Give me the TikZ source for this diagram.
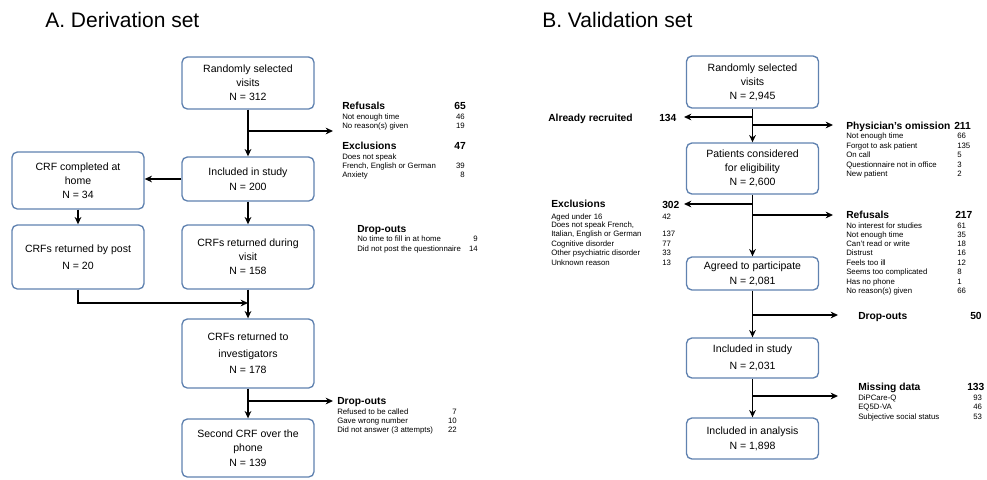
\documentclass[tikz,border=0pt]{standalone}
\usepackage{fontspec}
\setmainfont{Liberation Sans}
\usetikzlibrary{arrows.meta}

\begin{document}
\begin{tikzpicture}[x=0.75pt,y=-0.75pt]
	\definecolor{box edge}{RGB}{96,130,176}

	\tikzset{
		box/.style={draw=box edge, line width=1pt, rounded corners=4pt, fill=white, align=center,
			minimum width=99pt, inner sep=0pt, font=\fontsize{7.9}{10.5}\selectfont},
		arr/.style={-{Stealth[length=5.5pt,width=5pt]}, line width=1pt},
		title/.style={anchor=west, inner sep=0pt, font=\fontsize{15.75}{18}\selectfont, text height=11.3pt, text depth=0pt},
		head/.style={anchor=west, inner sep=0pt, font=\bfseries\fontsize{7.7}{9}\selectfont, text height=5.5pt, text depth=0pt},
		reason/.style={anchor=west, inner sep=0pt, font=\fontsize{5.85}{7}\selectfont, text height=4.2pt, text depth=0pt},
	}
	\useasboundingbox (0,0) rectangle (987,479);

	%% A. Derivation set
	\node[title] (titleA) at (45,20) {A. Derivation set};

	\node[box, minimum height=39pt] (visitsA) at (248,83) {Randomly selected\\visits\\N = 312};
	\node[box, minimum height=33pt] (inclA) at (248,179) {Included in study\\[1pt]N = 200};
	\node[box, minimum height=42.75pt] (home) at (78,180.5) {CRF completed at\\home\\N = 34};
	\node[box, minimum height=48pt] (post) at (78,257) {CRFs returned by post\\[2.2pt]N = 20};
	\node[box, minimum height=48pt] (visit) at (248,257) {CRFs returned during\\visit\\N = 158};
	\node[box, minimum height=51.75pt] (invest) at (248,353.5) {CRFs returned to\\[2.5pt]investigators\\[1.5pt]N = 178};
	\node[box, minimum height=43.5pt] (phone) at (248,448) {Second CRF over the\\phone\\[1pt]N = 139};

	\coordinate (refusA-tip) at (333,131);
	\coordinate (mergeA) at (248,303);
	\coordinate (dropA-tip) at (333,401);

	\draw[arr] (visitsA) -- (inclA);
	\draw[arr] (visitsA.south |- refusA-tip) -- (refusA-tip);
	\draw[arr] (inclA.west) -- (inclA.west -| home.east);
	\draw[arr] (home) -- (post);
	\draw[arr] (inclA) -- (visit);
	\draw[arr] (post.south) |- (mergeA);
	\draw[arr] (visit) -- (invest);
	\draw[arr] (invest) -- (phone);
	\draw[arr] (invest.south |- dropA-tip) -- (dropA-tip);

	% refusals and exclusions
	\node[head] (refusA) at (342,106) {Refusals};
	\node[head, anchor=east] (refusAn) at (466,106) {65};
	\foreach \t/\n/\y [count=\i] in {Not enough time/46/117, No reason(s) given/19/126}{
		\node[reason] (refusA-\i) at (342,\y) {\t};
		\node[reason, anchor=east] (refusAn-\i) at (465,\y) {\n};
	}
	\node[head] (exclA) at (342,146) {Exclusions};
	\node[head, anchor=east] (exclAn) at (466,146) {47};
	\foreach \t/\n/\y [count=\i] in {Does not speak/{}/156.5, {French, English or German}/39/166, Anxiety/8/175}{
		\node[reason] (exclA-\i) at (342,\y) {\t};
		\node[reason, anchor=east] (exclAn-\i) at (465,\y) {\n};
	}

	% drop-outs
	\node[head] (postA) at (357,229) {Drop-outs};
	\foreach \t/\n/\y [count=\i] in {No time to fill in at home/9/239, Did not post the questionnaire/14/249}{
		\node[reason] (postA-\i) at (357,\y) {\t};
		\node[reason, anchor=east] (postAn-\i) at (478,\y) {\n};
	}
	\node[head] (dropA) at (337,401) {Drop-outs};
	\foreach \t/\n/\y [count=\i] in {Refused to be called/7/412, Gave wrong number/10/421, Did not answer (3 attempts)/22/430}{
		\node[reason] (dropA-\i) at (337,\y) {\t};
		\node[reason, anchor=east] (dropAn-\i) at (457,\y) {\n};
	}

	%% B. Validation set
	\node[title] (titleB) at (542,20) {B. Validation set};

	\node[box, minimum height=39pt] (visitsB) at (752.5,82) {Randomly selected\\visits\\N = 2,945};
	\node[box, minimum height=38.25pt] (elig) at (752.5,168.5) {Patients considered\\for eligibility\\[0.5pt]N = 2,600};
	\node[box, minimum height=24.75pt] (agreed) at (752.5,273.5) {Agreed to participate\\[0.8pt]N = 2,081};
	\node[box, minimum height=30pt] (inclB) at (752.5,358) {Included in study\\[2.2pt]N = 2,031};
	\node[box, minimum height=30.75pt] (analysis) at (752.5,438.5) {Included in analysis\\[0.8pt]N = 1,898};

	\coordinate (recruit-tip) at (684,117);
	\coordinate (omit-tip) at (833,125);
	\coordinate (exclB-tip) at (684,204);
	\coordinate (refusB-tip) at (833,215);
	\coordinate (dropB-tip) at (838,315);
	\coordinate (miss-tip) at (838,396);

	\draw[arr] (visitsB) -- (elig);
	\draw[arr] (visitsB.south |- recruit-tip) -- (recruit-tip);
	\draw[arr] (visitsB.south |- omit-tip) -- (omit-tip);
	\draw[arr] (elig) -- (agreed);
	\draw[arr] (elig.south |- exclB-tip) -- (exclB-tip);
	\draw[arr] (elig.south |- refusB-tip) -- (refusB-tip);
	\draw[arr] (agreed) -- (inclB);
	\draw[arr] (agreed.south |- dropB-tip) -- (dropB-tip);
	\draw[arr] (inclB) -- (analysis);
	\draw[arr] (inclB.south |- miss-tip) -- (miss-tip);

	\node[head] (recruit) at (548,118) {Already recruited};
	\node[head] (recruitn) at (659,118) {134};

	\node[head] (omit) at (846,126) {Physician's omission};
	\node[head] (omitn) at (954,126) {211};
	\foreach \t/\n/\y [count=\i] in {Not enough time/66/136, Forgot to ask patient/135/145.5,
		On call/5/155, Questionnaire not in office/3/164.3, New patient/2/173.5}{
		\node[reason] (omit-\i) at (846,\y) {\t};
		\node[reason] (omitn-\i) at (957,\y) {\n};
	}

	\node[head] (exclB) at (551,204) {Exclusions};
	\node[head] (exclBn) at (662,205) {302};
	\foreach \t/\n/\y [count=\i] in {Aged under 16/42/216.5, {Does not speak French,}/{}/225,
		{Italian, English or German}/137/234, Cognitive disorder/77/243.5,
		Other psychiatric disorder/33/252.5, Unknown reason/13/263}{
		\node[reason] (exclB-\i) at (551,\y) {\t};
		\node[reason] (exclBn-\i) at (662,\y) {\n};
	}

	\node[head] (refusB) at (846,215) {Refusals};
	\node[head] (refusBn) at (955,215) {217};
	\foreach \t/\n/\y [count=\i] in {No interest for studies/61/225.3, Not enough time/35/234.7,
		Can't read or write/18/244, Distrust/16/253, Feels too ill/12/262.3,
		Seems too complicated/8/272, Has no phone/1/282, No reason(s) given/66/291}{
		\node[reason] (refusB-\i) at (846,\y) {\t};
		\node[reason] (refusBn-\i) at (957,\y) {\n};
	}

	\node[head] (dropB) at (858,316) {Drop-outs};
	\node[head] (dropBn) at (970,316) {50};

	\node[head] (miss) at (858,387) {Missing data};
	\node[head] (missn) at (967,387) {133};
	\foreach \t/\n/\y [count=\i] in {DiPCare-Q/93/398, EQ5D-VA/46/407, Subjective social status/53/417}{
		\node[reason] (miss-\i) at (858,\y) {\t};
		\node[reason] (missn-\i) at (973,\y) {\n};
	}
\end{tikzpicture}
\end{document}
